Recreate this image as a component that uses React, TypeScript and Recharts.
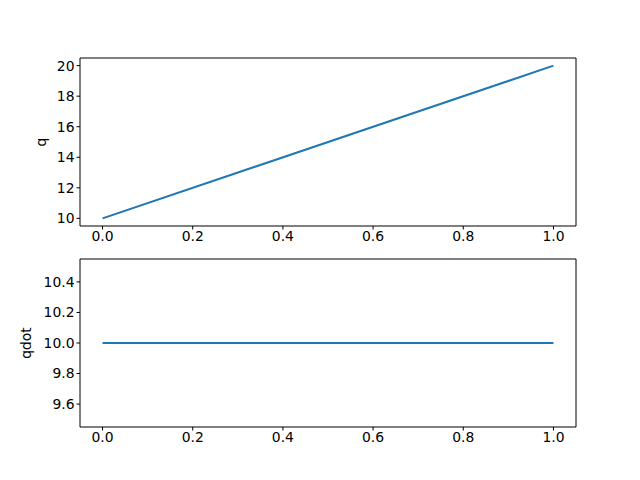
import { LineChart, Line, XAxis, YAxis, ReferenceLine } from "recharts";

const t = [0, 1];
const q = [10, 20];
const qdot = [10, 10];

const xTicks = [0, 0.2, 0.4, 0.6, 0.8, 1.0];
const qTicks = [10, 12, 14, 16, 18, 20];
const qdotTicks = [9.6, 9.8, 10.0, 10.2, 10.4];

const topData = t.map((x, i) => ({ t: x, v: q[i] }));
const bottomData = t.map((x, i) => ({ t: x, v: qdot[i] }));

const font = "'DejaVu Sans', sans-serif";
const tickStyle = { fill: "#000", fontSize: 13.9, fontFamily: font };
const lineColor = "#1f77b4";
const xDomain: [number, number] = [-0.05, 1.05];

type PanelProps = {
  data: { t: number; v: number }[];
  domain: [number, number];
  ticks: number[];
  yFormat: (v: number) => string;
  label: string;
  labelDx: number;
  top: number;
};

function Panel({ data, domain, ticks, yFormat, label, labelDx, top }: PanelProps) {
  return (
    <div style={{ position: "absolute", left: 0, top }}>
      <LineChart
        width={640}
        height={226}
        data={data}
        margin={{ top: 28, right: 64, bottom: 0, left: 0 }}
      >
        <XAxis
          dataKey="t"
          type="number"
          domain={xDomain}
          ticks={xTicks}
          tickFormatter={(v: number) => v.toFixed(1)}
          tick={tickStyle}
          tickSize={3.5}
          tickMargin={2}
          stroke="#000"
          height={30}
          allowDataOverflow
        />
        <YAxis
          type="number"
          domain={domain}
          ticks={ticks}
          tickFormatter={yFormat}
          tick={tickStyle}
          tickSize={3.5}
          tickMargin={2}
          stroke="#000"
          width={80}
          allowDataOverflow
          label={{
            value: label,
            angle: -90,
            position: "center",
            dx: labelDx,
            style: { fill: "#000", fontSize: 13.9, fontFamily: font },
          }}
        />
        <ReferenceLine y={domain[1]} stroke="#000" strokeWidth={1} ifOverflow="extendDomain" />
        <ReferenceLine x={xDomain[1]} stroke="#000" strokeWidth={1} ifOverflow="extendDomain" />
        <Line
          dataKey="v"
          stroke={lineColor}
          strokeWidth={2.08}
          dot={false}
          isAnimationActive={false}
        />
      </LineChart>
    </div>
  );
}

export default function App() {
  return (
    <div
      style={{
        position: "absolute",
        left: 0,
        top: 0,
        width: 640,
        height: 480,
        background: "#fff",
      }}
    >
      <Panel
        data={topData}
        domain={[9.5, 20.5]}
        ticks={qTicks}
        yFormat={(v) => String(v)}
        label="q"
        labelDx={1}
        top={30}
      />
      <Panel
        data={bottomData}
        domain={[9.45, 10.55]}
        ticks={qdotTicks}
        yFormat={(v) => v.toFixed(1)}
        label="qdot"
        labelDx={-14}
        top={231}
      />
    </div>
  );
}
